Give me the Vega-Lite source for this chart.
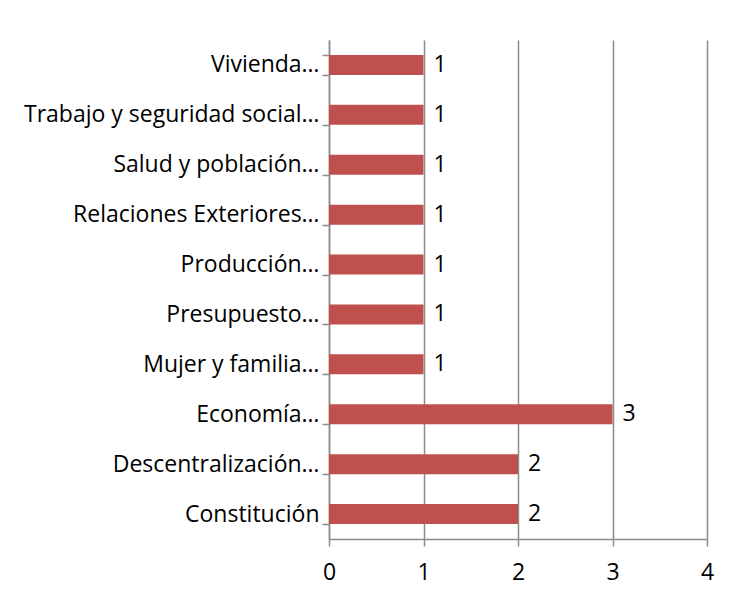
{
  "$schema": "https://vega.github.io/schema/vega-lite/v6.json",
  "width": 378,
  "height": 499,
  "autosize": {"type": "none"},
  "padding": {"left": 329, "top": 40, "right": 28, "bottom": 59},
  "background": "white",
  "config": {"view": {"stroke": null}, "font": "Open Sans"},
  "data": {
    "values": [
      {"tema": "Vivienda…", "n": 1},
      {"tema": "Trabajo y seguridad social…", "n": 1},
      {"tema": "Salud y población…", "n": 1},
      {"tema": "Relaciones Exteriores…", "n": 1},
      {"tema": "Producción…", "n": 1},
      {"tema": "Presupuesto…", "n": 1},
      {"tema": "Mujer y familia…", "n": 1},
      {"tema": "Economía…", "n": 3},
      {"tema": "Descentralización…", "n": 2},
      {"tema": "Constitución\u00a0\u00a0", "n": 2}
    ]
  },
  "encoding": {
    "y": {
      "field": "tema", "type": "nominal", "sort": null,
      "scale": {"paddingInner": 0.6, "paddingOuter": 0.3},
      "axis": {
        "title": null, "tickBand": "extent", "tickSize": 7, "labelPadding": 3,
        "labelFontSize": 23, "labelColor": "black", "labelLimit": 0,
        "domainColor": "#8c8c8c", "tickColor": "#8c8c8c", "domainWidth": 1.5, "tickWidth": 1.5, "grid": false
      }
    },
    "x": {
      "field": "n", "type": "quantitative", "scale": {"domain": [0, 4]},
      "axis": {
        "title": null, "values": [0, 1, 2, 3, 4], "format": "d", "tickSize": 7, "labelPadding": 15,
        "labelFontSize": 23, "labelColor": "black", "labelFlush": false,
        "gridColor": "#8c8c8c", "gridWidth": 1.5, "gridOpacity": 1,
        "domainColor": "#8c8c8c", "tickColor": "#8c8c8c", "domainWidth": 1.5, "tickWidth": 1.5
      }
    }
  },
  "layer": [
    {"mark": {"type": "bar", "color": "#C0504D"}},
    {"mark": {"type": "text", "align": "left", "baseline": "middle", "dx": 10, "fontSize": 23, "color": "black"},
     "encoding": {"text": {"field": "n", "type": "quantitative"}}}
  ]
}
